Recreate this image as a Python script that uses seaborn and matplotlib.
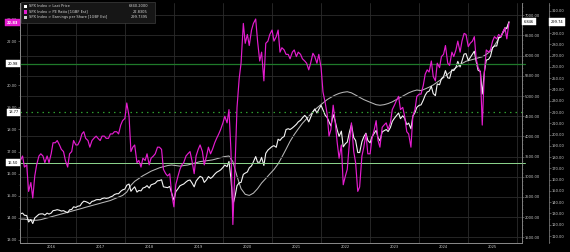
import numpy as np
import pandas as pd
import matplotlib
matplotlib.use("Agg")
import matplotlib.pyplot as plt
import matplotlib.dates as mdates
import matplotlib.transforms as mtrans
from matplotlib.ticker import MultipleLocator, FormatStrFormatter, FuncFormatter
from matplotlib.patches import Rectangle
import seaborn as sns

# ---------------- data ----------------
price_vals = [
    2080, 2100, 2045,
    2040, 1880, 1940, 1840, 1980, 2020, 2070, 2080, 2080, 2050, 2100, 2075, 2100, 2160, 2170, 2185, 2170, 2150, 2160, 2135, 2110, 2180, 2190, 2255,
    2240, 2270, 2280, 2350, 2395, 2385, 2360, 2330, 2390, 2400, 2430, 2435, 2430, 2460, 2475, 2465, 2475, 2500, 2520, 2560, 2580, 2580, 2640, 2675,
    2695, 2790, 2820, 2640, 2700, 2750, 2620, 2660, 2650, 2720, 2740, 2780, 2720, 2800, 2820, 2840, 2900, 2905, 2925, 2750, 2740, 2730, 2760, 2600,
    2420, 2630, 2705, 2775, 2800, 2820, 2870, 2905, 2920, 2850, 2750, 2890, 2960, 3010, 2980, 2860, 2925, 3005, 2960, 2995, 3065, 3110, 3140, 3170,
    3230, 3290, 3250, 3380, 2950, 2300, 2530, 2780, 2850, 2860, 3060, 3090, 3120, 3220, 3270, 3370, 3500, 3360, 3360, 3480, 3280, 3580, 3660, 3700,
    3750, 3770, 3730, 3930, 3900, 3960, 4000, 4170, 4190, 4170, 4210, 4250, 4300, 4360, 4400, 4460, 4520, 4470, 4360, 4470, 4610, 4680, 4580, 4670,
    4770, 4660, 4520, 4470, 4360, 4260, 4540, 4390, 4160, 4000, 4130, 3740, 3820, 3860, 4120, 4290, 3970, 3900, 3600, 3600, 3870, 3990, 4080, 3900,
    3840, 3990, 4080, 4150, 3970, 3890, 4110, 4140, 4170, 4120, 4220, 4370, 4450, 4510, 4580, 4440, 4510, 4450, 4290, 4330, 4190, 4500, 4590, 4720,
    4770, 4780, 4900, 5020, 5100, 5120, 5240, 5060, 5010, 5300, 5280, 5430, 5480, 5630, 5450, 5440, 5650, 5630, 5710, 5860, 5720, 5870, 6040, 6050,
    5880, 5950, 6040, 6110, 5850, 5640, 5610, 5050, 5600, 5890, 5910, 5980, 6200, 6240, 6240, 6450, 6460, 6580, 6690, 6670, 6840,
]
pe_vals = [
    16.6, 16.8, 16.3,
    16.4, 15.2, 15.6, 14.9, 15.9, 16.4, 16.8, 16.9, 16.8, 16.5, 16.8, 16.5, 16.9, 17.4, 17.4, 17.5, 17.3, 17.1, 17.0, 16.6, 16.3, 16.9, 17.0, 17.5,
    17.3, 17.3, 17.5, 17.8, 17.9, 17.6, 17.5, 17.2, 17.5, 17.6, 17.7, 17.6, 17.5, 17.7, 17.7, 17.6, 17.6, 17.8, 17.8, 17.9, 17.9, 17.8, 18.2, 18.4,
    18.5, 19.2, 18.6, 17.0, 17.2, 17.3, 16.5, 16.6, 16.3, 16.7, 16.6, 16.9, 16.4, 16.7, 16.8, 16.9, 17.2, 17.2, 17.1, 16.2, 16.0, 15.9, 16.0, 15.1,
    14.5, 15.5, 15.9, 16.2, 16.4, 16.5, 16.8, 16.9, 17.0, 16.6, 16.0, 16.8, 17.1, 17.3, 17.0, 16.4, 16.8, 17.2, 16.9, 17.1, 17.4, 17.6, 17.8, 18.0,
    18.3, 18.6, 18.3, 18.9, 17.0, 13.7, 16.5, 19.0, 20.3, 21.0, 22.8, 21.9, 22.3, 21.8, 22.5, 22.8, 23.0, 22.0, 21.1, 21.5, 20.2, 21.9, 22.0, 22.3,
    22.5, 22.0, 22.2, 22.5, 21.5, 21.7, 21.6, 21.4, 21.4, 21.2, 21.5, 21.6, 21.3, 21.5, 21.4, 21.2, 21.1, 21.0, 20.7, 21.0, 21.45, 21.3, 21.0, 21.4,
    20.8, 19.7, 19.2, 18.7, 17.7, 18.0, 19.1, 18.4, 17.4, 16.7, 17.3, 15.5, 15.9, 16.2, 17.5, 18.3, 17.0, 16.5, 15.2, 15.4, 16.8, 17.2, 17.8, 16.9,
    16.9, 17.6, 18.0, 18.4, 17.5, 17.2, 18.1, 18.2, 18.3, 18.0, 18.3, 18.9, 19.1, 19.3, 19.5, 18.9, 19.0, 18.6, 17.9, 17.8, 17.2, 18.6, 18.9, 19.5,
    19.6, 19.6, 20.0, 20.5, 20.7, 20.6, 21.1, 20.4, 20.2, 21.0, 20.8, 21.3, 21.4, 21.8, 21.0, 20.9, 21.5, 21.3, 21.6, 22.0, 21.5, 22.0, 22.35, 22.3,
    21.75, 21.9, 22.0, 22.2, 21.2, 20.8, 20.6, 18.2, 20.6, 21.6, 21.5, 21.6, 22.0, 22.2, 22.1, 22.3, 22.2, 22.4, 22.6, 22.1, 22.83,
]
eps_vals = [
    125, 125,
    124.5, 124, 124, 124.5, 125.5, 126.5, 127.5, 128.5, 129.5, 130.5, 131.5, 132.5,
    133.5, 134.5, 135.5, 136.5, 137.5, 138.5, 139.5, 140.5, 141.5, 143, 144.5, 146,
    149, 155, 158.5, 161, 163.5, 165.5, 167.5, 169, 170.5, 171.5, 172.5, 173,
    172.5, 172, 172.5, 173, 174, 175, 176, 176.5, 177, 177.5, 178.5, 179.5,
    180.5, 181, 176, 163, 152, 147, 146, 148, 152, 157, 161, 165,
    169, 174, 180, 187, 194, 200, 205, 210, 214, 218, 222, 225,
    228, 231, 233, 235, 236.5, 237.5, 238, 237, 235, 233, 231, 229.5,
    228, 226.5, 226, 226.5, 227.5, 229, 231, 233, 235, 237, 238.5, 239.5,
    239, 240.5, 242, 244, 246.5, 249, 252, 255, 258, 260.5, 263, 265,
    266, 267, 268, 269, 271, 274, 279, 285, 290, 295, 299.74,
]
pe_levels = [20.98, 18.77, 16.50]
legend_names = ["SPX Index > Last Price", "SPX Index > PE Ratio [1GBF Est]",
                "SPX Index > Earnings per Share [1GBF Est]"]
legend_values = ["6840.2000", "22.8305", "299.7395"]
last_labels = ["22.83", "6,846", "299.74"]
last_label_price = 6846

# dates
semi_dates = [pd.Timestamp(2015, 11, 15)]
for y in range(2015, 2026):
    for m in range(1, 13):
        if (2015, 12) <= (y, m) <= (2025, 10):
            semi_dates += [pd.Timestamp(y, m, 1), pd.Timestamp(y, m, 15)]
semi_dates.append(pd.Timestamp(2025, 10, 31))
month_dates = [pd.Timestamp(y, m, 15) for y in range(2015, 2026) for m in range(1, 13)
               if (2015, 11) <= (y, m) <= (2025, 10)] + [pd.Timestamp(2025, 10, 31)]

df_p = pd.DataFrame({"date": semi_dates, "price": price_vals})
df_pe = pd.DataFrame({"date": semi_dates, "pe": pe_vals})
df_e = pd.DataFrame({"date": month_dates, "eps": eps_vals})

# ---------------- style ----------------
sns.set_theme(style="dark")
BG = "#000000"
TXT = "#c8c8c8"
GRID = "#2c2c2c"
MAG = "#e41ccf"
plt.rcParams.update({
    "font.family": ["DejaVu Sans"],
    "font.size": 2.6,
    "figure.facecolor": BG,
    "axes.facecolor": BG,
    "savefig.facecolor": BG,
    "text.color": TXT,
    "xtick.color": "#8a8a8a",
    "ytick.color": "#8a8a8a",
    "xtick.labelcolor": TXT,
    "ytick.labelcolor": TXT,
    "axes.edgecolor": "#8a8a8a",
})

W, H = 570, 252
fig = plt.figure(figsize=(W / 100, H / 100), dpi=100)
L, R, T, B = 20, 522, 3, 243
ax = fig.add_axes([L / W, 1 - B / H, (R - L) / W, (B - T) / H])
ax_p = ax.twinx()
ax_e = ax.twinx()
ax_e.spines["right"].set_position(("axes", (549 - L) / (R - L)))

for a in (ax, ax_p, ax_e):
    a.set_facecolor(BG)
    a.spines["top"].set_visible(False)
    a.grid(False)

# z-order: EPS bottom, price, PE on top
ax_e.set_zorder(1)
ax_p.set_zorder(2)
ax.set_zorder(3)
ax.patch.set_visible(False)
ax_p.patch.set_visible(False)

sns.lineplot(data=df_e, x="date", y="eps", ax=ax_e, color="#b8b8b8", lw=0.75, legend=False)
sns.lineplot(data=df_p, x="date", y="price", ax=ax_p, color="#f4f4f4", lw=0.8, legend=False)
sns.lineplot(data=df_pe, x="date", y="pe", ax=ax, color=MAG, lw=0.85, legend=False)

x0, x1 = pd.Timestamp("2015-11-12"), pd.Timestamp("2026-02-05")
ax.set_xlim(x0, x1)
ax.set_ylim(12.864, 23.724)
ax_p.set_ylim(1358.8, 7305)
ax_e.set_ylim(103.8, 316.7)

for a in (ax, ax_p, ax_e):
    a.set_xlabel("")
    a.set_ylabel("")

# grid: price-axis horizontal lines + year verticals
for v in range(1500, 7001, 500):
    ax_p.axhline(v, color=GRID, lw=0.6, zorder=0)
for yr in range(2016, 2027):
    ax_e.axvline(pd.Timestamp(yr, 1, 1), color=GRID, lw=0.6, zorder=0)

# PE reference lines (extend slightly past the right spine)
ytr = ax.get_yaxis_transform()
ax.plot([0, 1.006], [pe_levels[0]] * 2, transform=ytr, color="#1f7a2a", lw=0.9, zorder=1, clip_on=False)
ax.plot([0, 1.006], [pe_levels[1]] * 2, transform=ytr, color="#2f9a2f", lw=0.9,
        ls=(0, (1.2, 3.2)), zorder=1, clip_on=False)
ax.plot([0, 1.006], [pe_levels[2]] * 2, transform=ytr, color="#8fd88f", lw=0.7, zorder=1, clip_on=False)

# ticks
ax.yaxis.set_major_locator(MultipleLocator(1))
ax.yaxis.set_minor_locator(MultipleLocator(0.5))
ax.yaxis.set_major_formatter(FormatStrFormatter("%.2f"))
ax.tick_params(axis="y", which="major", length=1.2, width=0.4, pad=0.6, labelsize=2.6)
ax.tick_params(axis="y", which="minor", length=0.6, width=0.3)

ax_p.yaxis.set_major_locator(MultipleLocator(500))
ax_p.yaxis.set_minor_locator(MultipleLocator(100))
ax_p.yaxis.set_major_formatter(FormatStrFormatter("%.2f"))
ax_p.tick_params(axis="y", which="major", length=1.2, width=0.4, pad=0.6, labelsize=2.6)
ax_p.tick_params(axis="y", which="minor", length=0.6, width=0.3)

ax_e.yaxis.set_major_locator(MultipleLocator(10))
ax_e.yaxis.set_minor_locator(MultipleLocator(5))
ax_e.yaxis.set_major_formatter(FormatStrFormatter("%.2f"))
ax_e.tick_params(axis="y", which="major", length=1.2, width=0.4, pad=0.6, labelsize=2.6)
ax_e.tick_params(axis="y", which="minor", length=0.6, width=0.3)

for a in (ax, ax_p, ax_e):
    for s in a.spines.values():
        s.set_linewidth(0.5)
        s.set_color("#8a8a8a")

ax.xaxis.set_major_locator(mdates.YearLocator())
ax.xaxis.set_major_formatter(FuncFormatter(lambda v, p: ""))
ax.xaxis.set_minor_locator(mdates.MonthLocator(bymonth=[4, 7, 10]))
ax.xaxis.set_minor_formatter(FuncFormatter(
    lambda v, p: str(mdates.num2date(v).year) if mdates.num2date(v).month == 7 else ""))
ax.tick_params(axis="x", which="major", length=3.4, width=0.5)
ax.tick_params(axis="x", which="minor", length=0.8, width=0.4, pad=0.5, labelsize=2.6)
for a in (ax_p, ax_e):
    a.tick_params(axis="x", which="both", length=0, labelbottom=False)

# last-value / level labels
tl = mtrans.blended_transform_factory(fig.transFigure, ax.transData)
fig.text(18.5 / W, pe_vals[-1], last_labels[0], transform=tl, ha="right", va="center",
         color="white", fontsize=2.6, fontweight="bold",
         bbox=dict(boxstyle="square,pad=0.45", fc=MAG, ec=MAG, lw=0.3), zorder=10)
for lv in pe_levels:
    fig.text(18.5 / W, lv, f"{lv:.2f}", transform=tl, ha="right", va="center",
             color="black", fontsize=2.6,
             bbox=dict(boxstyle="square,pad=0.45", fc="white", ec="white", lw=0.3), zorder=10)
tp = mtrans.blended_transform_factory(fig.transFigure, ax_p.transData)
fig.text(524 / W, last_label_price, last_labels[1], transform=tp, ha="left", va="center",
         color="black", fontsize=2.6,
         bbox=dict(boxstyle="square,pad=0.45", fc="white", ec="white", lw=0.3), zorder=10)
te = mtrans.blended_transform_factory(fig.transFigure, ax_e.transData)
fig.text(551 / W, eps_vals[-1], last_labels[2], transform=te, ha="left", va="center",
         color="black", fontsize=2.6,
         bbox=dict(boxstyle="square,pad=0.45", fc="white", ec="white", lw=0.3), zorder=10)

# legend box (manual)
lx0, ly0, lx1, ly1 = 21, 2, 155, 22.5
fig.patches.append(Rectangle((lx0 / W, 1 - ly1 / H), (lx1 - lx0) / W, (ly1 - ly0) / H,
                             transform=fig.transFigure, fc="#161616", ec="#4a4a4a", lw=0.4, zorder=20))
sq_cols = ["#ffffff", MAG, "#d0d0d0"]
for i, (nm, val, c) in enumerate(zip(legend_names, legend_values, sq_cols)):
    yy = 6.2 + i * 5.6
    fig.patches.append(Rectangle((23.5 / W, 1 - (yy + 1.7) / H), 3.4 / W, 3.4 / H,
                                 transform=fig.transFigure, fc=c, ec="none", zorder=21))
    fig.text(29 / W, 1 - yy / H, nm, ha="left", va="center", fontsize=2.6, color="#d8d8d8", zorder=22)
    fig.text(148 / W, 1 - yy / H, val, ha="right", va="center", fontsize=2.6, color="#d8d8d8", zorder=22)

fig.savefig("out.png", dpi=100, facecolor=BG)
